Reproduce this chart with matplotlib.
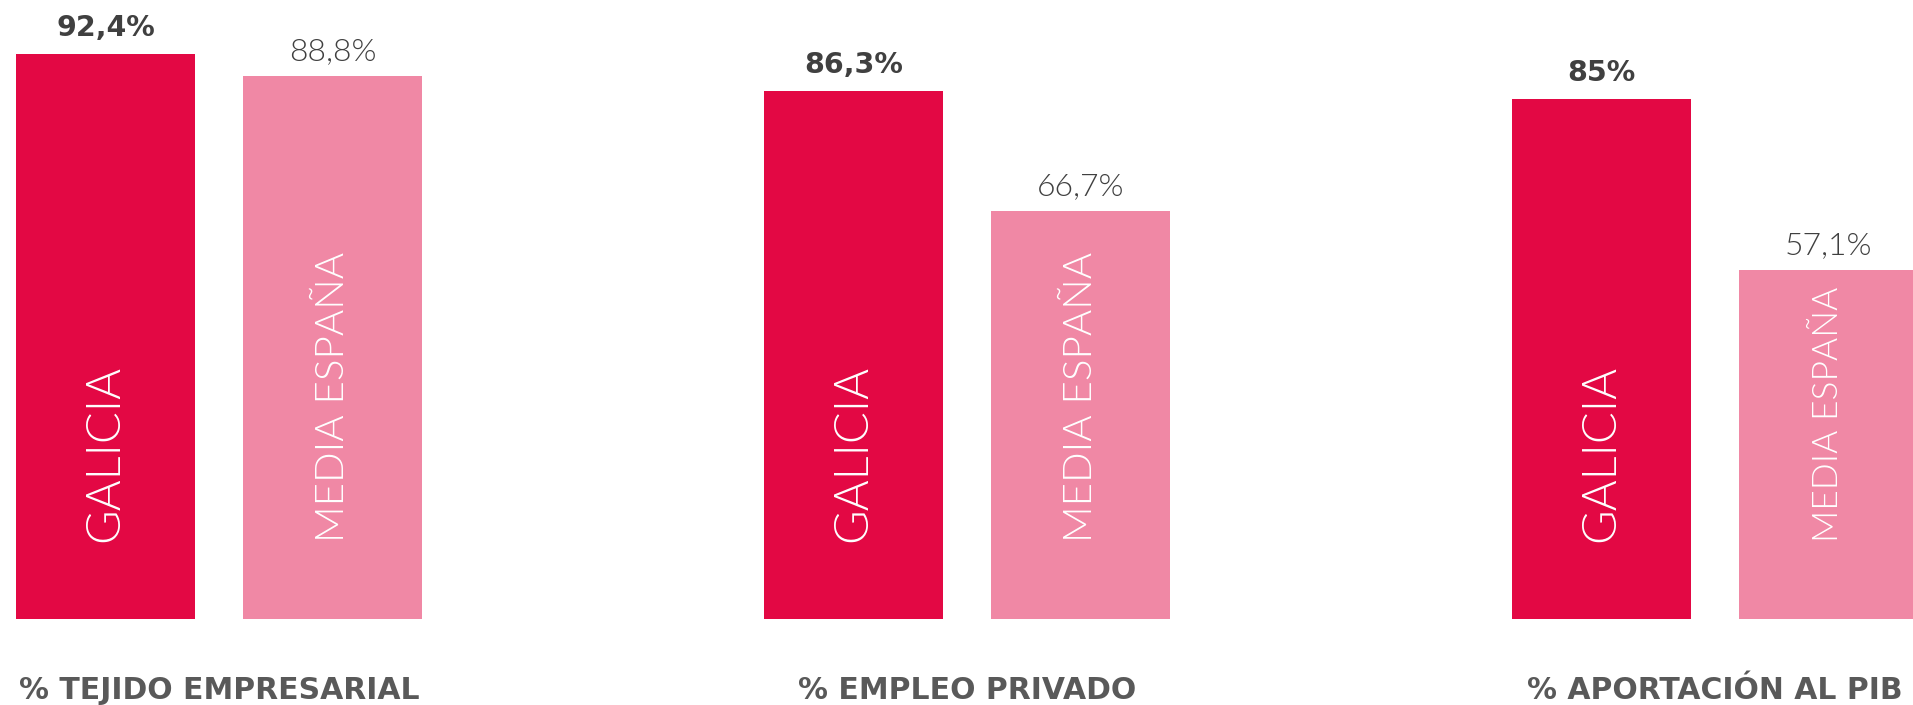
import matplotlib
matplotlib.use("Agg")
import matplotlib.pyplot as plt
from matplotlib import font_manager
from matplotlib.font_manager import FontProperties

categories = ["% TEJIDO EMPRESARIAL", "% EMPLEO PRIVADO", "% APORTACIÓN AL PIB"]
galicia = [92.4, 86.3, 85.0]
espana = [88.8, 66.7, 57.1]
galicia_labels = ["92,4%", "86,3%", "85%"]
espana_labels = ["88,8%", "66,7%", "57,1%"]
series_names = ["GALICIA", "MEDIA ESPAÑA"]

C_GAL = "#E30844"
C_ESP = "#F088A5"
C_TXT = "#404040"
C_CAT = "#595959"
FONT = "DejaVu Sans"

# in-bar label sizes (the last one is squeezed in the reference)
esp_name_sizes = [29, 29, 25.5]

# pick a light font file if available (weight 300), else Lato regular
light_file = None
for fam in ("Lato", "Open Sans", "Roboto", "Inter", "Noto Sans"):
    for f in font_manager.fontManager.ttflist:
        if f.name == fam and f.weight == 300 and f.style == "normal":
            light_file = f.fname
            break
    if light_file:
        break


def light_props(size):
    if light_file:
        return FontProperties(fname=light_file, size=size)
    return FontProperties(family="Lato", weight="normal", size=size)


fig = plt.figure(figsize=(19.13, 7.05), dpi=100)
ax = fig.add_axes([0, 86 / 705, 1, 619 / 705])

offset = 227 / 748
width = 179 / 748
x = list(range(len(categories)))
x2 = [xi + offset for xi in x]

ax.bar(x, galicia, width=width, color=C_GAL, align="center")
ax.bar(x2, espana, width=width, color=C_ESP, align="center")

ax.set_xlim(-105.5 / 748, (1913 - 105.5) / 748)
ax.set_ylim(0, 619 / 6.115)
ax.axis("off")

for xi, v, lab in zip(x, galicia, galicia_labels):
    ax.annotate(lab, xy=(xi, v), xytext=(0, 13), textcoords="offset points",
                ha="center", va="baseline", fontsize=20.5, fontweight="bold",
                color=C_TXT, family=FONT)
    ax.text(xi, 77 / 6.115, series_names[0], rotation=90, ha="center", va="bottom",
            color="white", fontproperties=light_props(34))
for xi, v, lab, sz in zip(x2, espana, espana_labels, esp_name_sizes):
    ax.annotate(lab, xy=(xi, v), xytext=(0, 11.5), textcoords="offset points",
                ha="center", va="baseline", color=C_TXT,
                fontproperties=light_props(23))
    ax.text(xi, 77 / 6.115, series_names[1], rotation=90, ha="center", va="bottom",
            color="white", fontproperties=light_props(sz))

for xi, cat in zip(x, categories):
    ax.annotate(cat, xy=(xi + offset / 2, 0), xycoords=("data", "axes fraction"),
                xytext=(0, -80 / 100 * 72), textcoords="offset points",
                ha="center", va="baseline", fontsize=21.5, fontweight="bold",
                color=C_CAT, family=FONT, annotation_clip=False)

fig.savefig("out.png", dpi=100)
